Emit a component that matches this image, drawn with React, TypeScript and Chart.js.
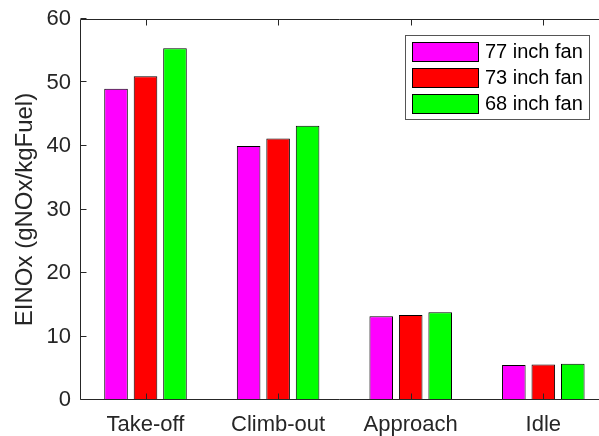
import React, { useEffect, useRef } from "react";
import { Chart, registerables } from "chart.js";

Chart.register(...registerables);

const categories = ["Take-off", "Climb-out", "Approach", "Idle"];
const seriesLabels = ["77 inch fan", "73 inch fan", "68 inch fan"];
const fan77 = [49.0, 40.0, 13.2, 5.5];
const fan73 = [51.0, 41.2, 13.4, 5.6];
const fan68 = [55.4, 43.2, 13.8, 5.7];
const seriesColors = ["#ff00ff", "#ff0000", "#00ff00"];
const yTickValues = [0, 10, 20, 30, 40, 50, 60];
const yTitle = "EINOx (gNOx/kgFuel)";

const FONT = "'Liberation Sans', Arial, Helvetica, sans-serif";
const TEXT = "#262626";

const boxPlugin = {
  id: "matlabBox",
  afterDatasetsDraw(chart: any) {
    const { ctx, chartArea, scales } = chart;
    const xs = scales.x;
    const ys = scales.y;
    const L = Math.round(chartArea.left) + 0.5;
    const T = Math.round(chartArea.top) + 0.5;
    const B = Math.round(chartArea.bottom) - 0.5;
    const R = chart.width;
    ctx.save();
    ctx.strokeStyle = TEXT;
    ctx.lineWidth = 1;
    ctx.beginPath();
    ctx.moveTo(L, T);
    ctx.lineTo(R, T);
    ctx.moveTo(L, T);
    ctx.lineTo(L, B);
    ctx.lineTo(R, B);
    const tl = 6;
    yTickValues.forEach((v) => {
      const y = Math.round(ys.getPixelForValue(v)) - 0.5;
      ctx.moveTo(L, y);
      ctx.lineTo(L + tl, y);
    });
    categories.forEach((_, i) => {
      const x = Math.round(xs.getPixelForValue(i + 1)) + 0.5;
      ctx.moveTo(x, B);
      ctx.lineTo(x, B - tl);
      ctx.moveTo(x, T);
      ctx.lineTo(x, T + tl);
    });
    ctx.stroke();
    ctx.restore();
  },
  afterDraw(chart: any) {
    const { ctx } = chart;
    const bx = 405.5, by = 35.5, bw = 184, bh = 84;
    ctx.save();
    ctx.fillStyle = "#ffffff";
    ctx.fillRect(bx, by, bw, bh);
    ctx.strokeStyle = "#555555";
    ctx.lineWidth = 1;
    ctx.strokeRect(bx, by, bw, bh);
    ctx.font = `20px ${FONT}`;
    ctx.textBaseline = "middle";
    ctx.textAlign = "left";
    chart.data.datasets.forEach((ds: any, i: number) => {
      const sy = 42.5 + i * 26;
      ctx.fillStyle = ds.backgroundColor;
      ctx.fillRect(412.5, sy, 66, 19);
      ctx.strokeStyle = "#000000";
      ctx.strokeRect(412.5, sy, 66, 19);
      ctx.fillStyle = "#000000";
      ctx.fillText(ds.label, 485, sy + 10);
    });
    ctx.restore();
  },
};

export default function App() {
  const ref = useRef<HTMLCanvasElement | null>(null);

  useEffect(() => {
    if (!ref.current) return;
    const series = [fan77, fan73, fan68];
    const chart = new Chart(ref.current, {
      type: "bar",
      data: {
        datasets: series.map((vals, si) => ({
          label: seriesLabels[si],
          data: vals.map((v, i) => ({ x: i + 1, y: v })),
          backgroundColor: seriesColors[si],
          borderColor: "#000000",
          borderWidth: 1,
          categoryPercentage: 0.667,
          barPercentage: 0.8,
        })),
      },
      options: {
        responsive: false,
        animation: false,
        devicePixelRatio: 1,
        layout: { padding: { top: 19, left: 0, right: 0, bottom: 0 } },
        plugins: {
          legend: { display: false },
          tooltip: { enabled: false },
        },
        scales: {
          x: {
            type: "linear",
            offset: false,
            min: 0.506,
            max: 4.42,
            grid: { display: false, drawTicks: false, offset: false },
            border: { display: false },
            afterBuildTicks: (s: any) => {
              s.ticks = categories.map((_, i) => ({ value: i + 1 }));
            },
            afterFit: (s: any) => {
              s.height = 36;
              s.paddingLeft = 0;
              s.paddingRight = 0;
            },
            ticks: {
              autoSkip: false,
              maxRotation: 0,
              padding: 12,
              color: TEXT,
              font: { family: FONT, size: 22 },
              callback: (v: any) => categories[Math.round(Number(v)) - 1] ?? "",
            },
          },
          y: {
            min: 0,
            max: 60,
            grid: { display: false, drawTicks: false },
            border: { display: false },
            afterFit: (s: any) => {
              s.width = 80;
              s.paddingTop = 0;
              s.paddingBottom = 0;
            },
            afterBuildTicks: (s: any) => {
              s.ticks = yTickValues.map((v) => ({ value: v }));
            },
            ticks: {
              padding: 9,
              color: TEXT,
              font: { family: FONT, size: 22 },
            },
            title: {
              display: true,
              text: yTitle,
              color: TEXT,
              font: { family: FONT, size: 24 },
              padding: { top: 11, bottom: 0 },
            },
          },
        },
      },
      plugins: [boxPlugin],
    } as any);
    return () => chart.destroy();
  }, []);

  return (
    <div style={{ position: "absolute", left: 0, top: 0, width: 599, height: 436, background: "#fff" }}>
      <canvas ref={ref} width={599} height={436} style={{ display: "block" }} />
    </div>
  );
}
